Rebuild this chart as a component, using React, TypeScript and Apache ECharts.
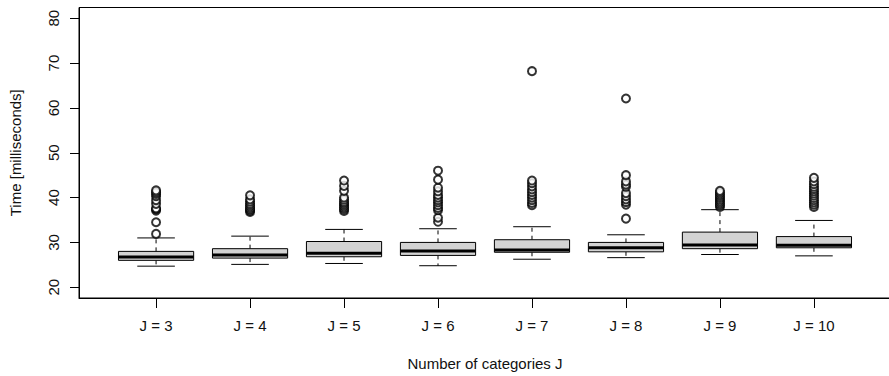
import React, { useEffect, useRef } from "react";
import * as echarts from "echarts";

const categories = ["J = 3", "J = 4", "J = 5", "J = 6", "J = 7", "J = 8", "J = 9", "J = 10"];
const lowerWhisker = [24.7, 25.1, 25.3, 24.8, 26.25, 26.6, 27.3, 27.0];
const q1 = [26.0, 26.5, 26.8, 27.1, 27.8, 27.9, 28.6, 28.8];
const medians = [26.75, 27.2, 27.6, 28.1, 28.3, 28.8, 29.4, 29.35];
const q3 = [28.0, 28.6, 30.2, 30.0, 30.6, 30.0, 32.3, 31.3];
const upperWhisker = [31.0, 31.4, 32.9, 33.05, 33.5, 31.7, 37.3, 34.9];

const outliersJ3 = [31.9, 34.5, 37.1, 37.4, 37.6, 38.6, 39.4, 40.3, 40.8, 41.2, 41.6];
const outliersJ4 = [36.8, 37.1, 37.4, 37.8, 38.2, 38.6, 39.1, 39.6, 40.5];
const outliersJ5 = [37.0, 37.4, 37.8, 38.2, 38.6, 39.0, 39.5, 40.0, 41.5, 42.6, 43.8];
const outliersJ6 = [34.6, 35.5, 37.2, 37.7, 38.3, 38.9, 39.4, 40.0, 40.6, 41.4, 42.2, 44.0, 46.0];
const outliersJ7 = [38.3, 38.8, 39.4, 40.0, 40.6, 41.2, 41.8, 42.5, 43.2, 43.8, 68.2];
const outliersJ8 = [35.3, 38.4, 39.0, 39.6, 40.3, 41.0, 42.4, 42.9, 43.6, 45.0, 62.1];
const outliersJ9 = [37.9, 38.3, 38.7, 39.1, 39.5, 39.9, 40.3, 40.7, 41.1, 41.5];
const outliersJ10 = [37.9, 38.4, 38.9, 39.4, 39.9, 40.4, 40.9, 41.4, 41.9, 42.4, 43.0, 43.6, 44.4];
const outlierGroups = [outliersJ3, outliersJ4, outliersJ5, outliersJ6, outliersJ7, outliersJ8, outliersJ9, outliersJ10];

const yTicks = [20, 30, 40, 50, 60, 70, 80];
const xPositions = [1, 2, 3, 4, 5, 6, 7, 8];

const FONT = '"Liberation Sans", Arial, Helvetica, sans-serif';

export default function App() {
  const ref = useRef<HTMLDivElement>(null);
  useEffect(() => {
    if (!ref.current) return;
    const chart = echarts.init(ref.current, null, { renderer: "svg" });
    const boxData = categories.map((_, i) => [
      xPositions[i], lowerWhisker[i], q1[i], medians[i], q3[i], upperWhisker[i],
    ]);
    const outlierData: number[][] = [];
    outlierGroups.forEach((g, i) => g.forEach((v) => outlierData.push([xPositions[i], v])));

    const renderItem = (params: any, api: any) => {
      const x = api.value(0);
      const pLo = api.coord([x, api.value(1)]);
      const pQ1 = api.coord([x, api.value(2)]);
      const pMed = api.coord([x, api.value(3)]);
      const pQ3 = api.coord([x, api.value(4)]);
      const pHi = api.coord([x, api.value(5)]);
      const half = api.size([0.4, 0])[0];
      const cap = half / 2;
      const cx = pMed[0];
      const lineStyle = { stroke: "#000", lineWidth: 1, fill: null };
      return {
        type: "group",
        children: [
          { type: "line", shape: { x1: cx, y1: pQ3[1], x2: cx, y2: pHi[1] }, style: { ...lineStyle, lineDash: [4, 4] } },
          { type: "line", shape: { x1: cx, y1: pQ1[1], x2: cx, y2: pLo[1] }, style: { ...lineStyle, lineDash: [4, 4] } },
          { type: "line", shape: { x1: cx - cap, y1: pHi[1], x2: cx + cap, y2: pHi[1] }, style: lineStyle },
          { type: "line", shape: { x1: cx - cap, y1: pLo[1], x2: cx + cap, y2: pLo[1] }, style: lineStyle },
          {
            type: "rect",
            shape: { x: cx - half, y: pQ3[1], width: 2 * half, height: pQ1[1] - pQ3[1] },
            style: { fill: "#d3d3d3", stroke: "#000", lineWidth: 1 },
          },
          { type: "line", shape: { x1: cx - half, y1: pMed[1], x2: cx + half, y2: pMed[1] }, style: { stroke: "#000", lineWidth: 3 } },
        ],
      };
    };

    chart.setOption({
      animation: false,
      textStyle: { fontFamily: FONT },
      grid: {
        left: 79,
        top: 7.5,
        right: 2,
        bottom: 76,
        show: true,
        borderColor: "#000",
        borderWidth: 1,
        backgroundColor: "transparent",
      },
      xAxis: {
        type: "value",
        min: 0.18,
        max: 8.82,
        name: "Number of categories J",
        nameLocation: "middle",
        nameGap: 58,
        nameTextStyle: { fontSize: 15, color: "#111", fontFamily: FONT },
        axisLine: { show: true, lineStyle: { color: "#000", width: 1 } },
        axisTick: { show: true, length: 10, customValues: xPositions, lineStyle: { color: "#000" } },
        axisLabel: {
          show: true,
          customValues: xPositions,
          margin: 20,
          fontSize: 15,
          color: "#111",
          fontFamily: FONT,
          formatter: (v: number) => categories[Math.round(v) - 1] ?? "",
        },
        splitLine: { show: false },
      },
      yAxis: {
        type: "value",
        min: 17.6,
        max: 82.4,
        name: "Time [milliseconds]",
        nameLocation: "middle",
        nameRotate: 90,
        nameGap: 56,
        nameTextStyle: { fontSize: 15, color: "#111", fontFamily: FONT },
        axisLine: { show: true, lineStyle: { color: "#000", width: 1 } },
        axisTick: { show: true, length: 9, customValues: yTicks, lineStyle: { color: "#000" } },
        axisLabel: {
          show: true,
          customValues: yTicks,
          rotate: 90,
          margin: 18,
          fontSize: 15,
          color: "#111",
          fontFamily: FONT,
        },
        splitLine: { show: false },
      },
      series: [
        {
          type: "custom",
          renderItem,
          data: boxData,
          encode: { x: 0, y: [1, 2, 3, 4, 5] },
          z: 2,
        },
        {
          type: "scatter",
          data: outlierData,
          symbol: "emptyCircle",
          symbolSize: 8,
          itemStyle: { color: "#000", borderColor: "#000", borderWidth: 0.9 },
          z: 3,
        },
      ],
    });
    return () => chart.dispose();
  }, []);
  return (
    <div style={{ position: "fixed", left: 0, top: 0, width: 889, height: 376, overflow: "hidden", background: "#fff" }}>
      <div ref={ref} style={{ position: "absolute", left: 0, top: 0, width: 893, height: 376 }} />
    </div>
  );
}
